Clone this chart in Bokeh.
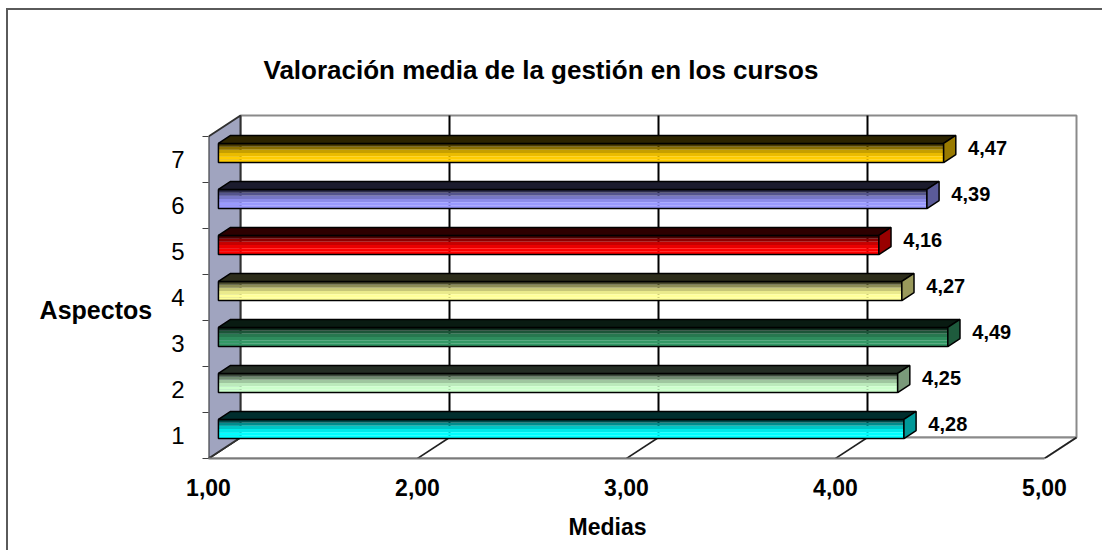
from bokeh.plotting import figure
from bokeh.models import Range1d, FixedTicker, Title
from bokeh.embed import file_html
from bokeh.resources import INLINE
from bokeh.core.properties import value

# ---- data ----
categories = [1, 2, 3, 4, 5, 6, 7]
values = [4.28, 4.25, 4.49, 4.27, 4.16, 4.39, 4.47]
value_labels = ["4,28", "4,25", "4,49", "4,27", "4,16", "4,39", "4,47"]
x_ticks = [1, 2, 3, 4, 5]
x_tick_labels = ["1,00", "2,00", "3,00", "4,00", "5,00"]
bar_colors = ["#00FFFF", "#CCFFCC", "#339966", "#FFFF99", "#FF0000", "#9999FF", "#FFCC00"]
title_text = "Valoración media de la gestión en los cursos"
x_title = "Medias"
y_title = "Aspectos"

FONT = "Liberation Sans"

# ---- geometry (style) ----
W, H = 1096, 542
FL, FR, FT, FB = 200, 1085, 93, 448
PX, PY = 209.0, 46.0
x_start = 1.0
x_end = x_start + (FR - FL) / PX
y_start = 0.5
y_end = y_start + (FB - FT) / PY
DX, DY = 32 / PX, 21 / PY       # depth offset of the 3D box
F0, F1 = 0.31, 0.69             # bar depth fractions
HB = 0.207                      # half bar height


def shade(hexc, f):
    hexc = hexc.lstrip("#")
    r, g, b = (int(hexc[i:i + 2], 16) for i in (0, 2, 4))
    return "#%02x%02x%02x" % (int(r * f), int(g * f), int(b * f))


p = figure(width=W, height=H, x_range=Range1d(x_start, x_end), y_range=Range1d(y_start, y_end),
           output_backend="svg", toolbar_location=None,
           min_border_left=FL, min_border_right=W - FR, min_border_top=FT, min_border_bottom=H - FB)
p.styles = {"margin-left": "8px", "margin-top": "10px", "box-shadow": "-2px -2px 0 0 #5a5a5a"}
p.outline_line_color = None
p.xgrid.visible = False
p.ygrid.visible = False
p.background_fill_color = "white"
p.border_fill_color = "white"

# title
p.title.text = title_text
p.title.text_font = FONT
p.title.text_font_size = "26px"
p.title.text_font_style = "bold"
p.title.text_color = "black"
p.title.align = "left"
p.title.offset = 55
p.title.standoff = 38

# walls
lo, hi = categories[0] - 0.5, categories[-1] + 0.5
p.quad(left=[x_ticks[0] + DX], right=[x_ticks[-1] + DX], bottom=[lo + DY], top=[hi + DY],
       fill_color="white", line_color="#8a8a8a", line_width=2)
p.patch([x_ticks[0], x_ticks[-1], x_ticks[-1] + DX, x_ticks[0] + DX], [lo, lo, lo + DY, lo + DY],
        fill_color="white", line_color="#8a8a8a", line_width=2)
p.segment(x0=x_ticks, y0=[lo] * len(x_ticks), x1=[t + DX for t in x_ticks], y1=[lo + DY] * len(x_ticks),
          line_color="#202020", line_width=1.5)
p.segment(x0=[t + DX for t in x_ticks[1:-1]], y0=[lo + DY] * 3, x1=[t + DX for t in x_ticks[1:-1]],
          y1=[hi + DY] * 3, line_color="black", line_width=2)
p.patch([x_ticks[0], x_ticks[0] + DX, x_ticks[0] + DX, x_ticks[0]], [lo, lo + DY, hi + DY, hi],
        fill_color="#a0a4bf", line_color="#303030", line_width=2)

# bars
strip_f = [0.3, 0.55, 0.78, 0.92, 1.0, 1.0]
ns = len(strip_f)
for c, v, col in zip(categories, values, bar_colors):
    xl = x_ticks[0] + F0 * DX
    xr = v + F0 * DX
    yb = c - HB + F0 * DY
    yt = c + HB + F0 * DY
    step = (yt - yb) / ns
    p.quad(left=[xl] * ns, right=[xr] * ns,
           top=[yt - i * step for i in range(ns)], bottom=[yt - (i + 1) * step for i in range(ns)],
           fill_color=[shade(col, f) for f in strip_f], line_color=None)
    p.quad(left=[xl], right=[xr], bottom=[yb], top=[yt], fill_color=None, line_color="black", line_width=1.5)
    d = F1 - F0
    p.patch([xl, xr, xr + d * DX, xl + d * DX], [yt, yt, yt + d * DY, yt + d * DY],
            fill_color=shade(col, 0.18), line_color="black", line_width=1.5)
    p.patch([xr, xr + d * DX, xr + d * DX, xr], [yb, yb + d * DY, yt + d * DY, yt],
            fill_color=shade(col, 0.6), line_color="black", line_width=1.5)

# value labels
p.text(x=[v + F0 * DX + 0.21 for v in values], y=[c + 0.24 for c in categories], text=value_labels,
       text_font=value(FONT), text_font_style="bold", text_font_size="20px",
       text_align="center", text_baseline="middle", text_color="black")

# y axis
ya = p.yaxis[0]
ya.ticker = FixedTicker(ticks=categories, minor_ticks=[lo + i for i in range(len(categories) + 1)])
ya.bounds = (lo, hi)
ya.axis_line_color = None
ya.major_tick_in = 0
ya.major_tick_out = 0
ya.minor_tick_in = 0
ya.minor_tick_out = 6
ya.minor_tick_line_color = "#404040"
ya.major_label_text_font = FONT
ya.major_label_text_font_size = "24px"
ya.major_label_text_color = "black"
ya.major_label_standoff = 18
ya.axis_label = "\n\n" + y_title
ya.axis_label_orientation = "horizontal"
ya.axis_label_text_font = FONT
ya.axis_label_text_font_size = "25px"
ya.axis_label_text_font_style = "bold"
ya.axis_label_text_color = "black"
ya.axis_label_text_line_height = 1.05
ya.axis_label_standoff = 16

# x axis
xa = p.xaxis[0]
xa.ticker = FixedTicker(ticks=x_ticks)
xa.major_label_overrides = {t: s for t, s in zip(x_ticks, x_tick_labels)}
xa.bounds = (x_ticks[0], x_ticks[-1])
xa.axis_line_color = "#7a7a7a"
xa.axis_line_width = 2
xa.major_tick_in = 0
xa.major_tick_out = 0
xa.minor_tick_line_color = None
xa.major_label_text_font = FONT
xa.major_label_text_font_size = "23px"
xa.major_label_text_font_style = "bold"
xa.major_label_text_color = "black"
xa.major_label_standoff = 20

p.add_layout(Title(text=x_title, text_font=FONT, text_font_size="23px", text_font_style="bold",
                   text_color="black", align="left", offset=360, standoff=26), "below")

open("out.html", "w").write(file_html(p, INLINE))
